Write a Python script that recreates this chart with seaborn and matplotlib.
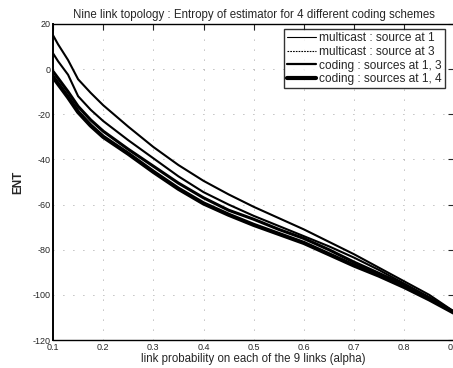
import numpy as np
import pandas as pd
import matplotlib
matplotlib.use("Agg")
import matplotlib.pyplot as plt
import seaborn as sns

alpha = [0.1, 0.11, 0.12, 0.13, 0.15, 0.175, 0.2, 0.25, 0.3, 0.35, 0.4, 0.45,
         0.5, 0.55, 0.6, 0.65, 0.7, 0.75, 0.8, 0.85, 0.9]
multicast_src1 = [15, 11, 7.5, 4, -4.5, -10.5, -16, -25.5, -34.5, -42.5, -49.5, -55.5,
                  -61, -66, -71, -76.5, -82, -88, -94, -100, -107.5]
multicast_src3 = [7, 3.5, 0.5, -2.5, -12, -18, -23, -31.5, -39.5, -47.5, -54.5, -60,
                  -65, -69.5, -74, -78.5, -83.5, -89, -95, -101, -107.5]
coding_13 = [-1, -4, -7, -10, -16.5, -22.5, -27.5, -35.5, -43, -50.5, -57, -62.5,
             -66.5, -71, -75, -80, -85.5, -90.5, -95.5, -101.5, -108]
coding_14 = [-3.5, -6.5, -9.5, -12.5, -19, -25, -30, -37.5, -45.5, -53, -59.5, -64.5,
             -69, -73, -77, -82, -87, -91.5, -96.5, -102, -108]

labels = ["multicast : source at 1", "multicast : source at 3",
          "coding : sources at 1, 3", "coding : sources at 1, 4"]
series = [multicast_src1, multicast_src3, coding_13, coding_14]
xticks = [0.1, 0.2, 0.3, 0.4, 0.5, 0.6, 0.7, 0.8, 0.9]
yticks = [-120, -100, -80, -60, -40, -20, 0, 20]

sns.set_style("white")
plt.rcParams['font.family'] = ['Liberation Sans', 'DejaVu Sans']

fig = plt.figure(figsize=(4.53, 3.68), dpi=100)
ax = fig.add_axes([0.117, 0.076, 0.886, 0.859])

widths = [1.5, 1.5, 2.2, 3.0]
for lab, vals, lw in zip(labels, series, widths):
    df = pd.DataFrame({"alpha": alpha, "ENT": vals})
    sns.lineplot(data=df, x="alpha", y="ENT", ax=ax, color="black",
                 linewidth=lw, label=lab)

ax.set_xlim(0.1, 0.9)
ax.set_ylim(-120, 20)
ax.set_xticks(xticks)
ax.set_yticks(yticks)
ax.set_xticklabels([f"{t:g}" for t in xticks], fontsize=6.5)
ax.set_yticklabels([f"{t:g}" for t in yticks], fontsize=6.5)
ax.tick_params(direction="in", length=4, width=0.8, top=True, right=True, pad=2)
ax.grid(True, linestyle=(0, (1, 11)), color="0.5", linewidth=0.6)
for s in ax.spines.values():
    s.set_color("black")
    s.set_linewidth(1.0)
ax.spines["left"].set_linewidth(1.4)

ax.set_title("Nine link topology : Entropy of estimator for 4 different coding schemes",
             fontsize=8.3, pad=4)
ax.set_xlabel("link probability on each of the 9 links (alpha)", fontsize=8.3, labelpad=1)
ax.set_ylabel("ENT", fontsize=8.5, fontweight="bold", labelpad=6)

leg = ax.legend(loc="upper right", fontsize=8.6, frameon=True, fancybox=False,
                handlelength=2.4, handletextpad=0.3, borderpad=0.25, labelspacing=0.15,
                borderaxespad=0.3, bbox_to_anchor=(0.985, 0.995))
leg.get_frame().set_edgecolor("black")
leg.get_frame().set_linewidth(1.0)
handles = leg.get_lines()
handles[0].set_linewidth(0.8)
handles[1].set_linewidth(0.8)
handles[1].set_linestyle((0, (1.5, 1)))
handles[2].set_linewidth(1.6)
handles[3].set_linewidth(3.0)

fig.savefig("out.png", dpi=100)
